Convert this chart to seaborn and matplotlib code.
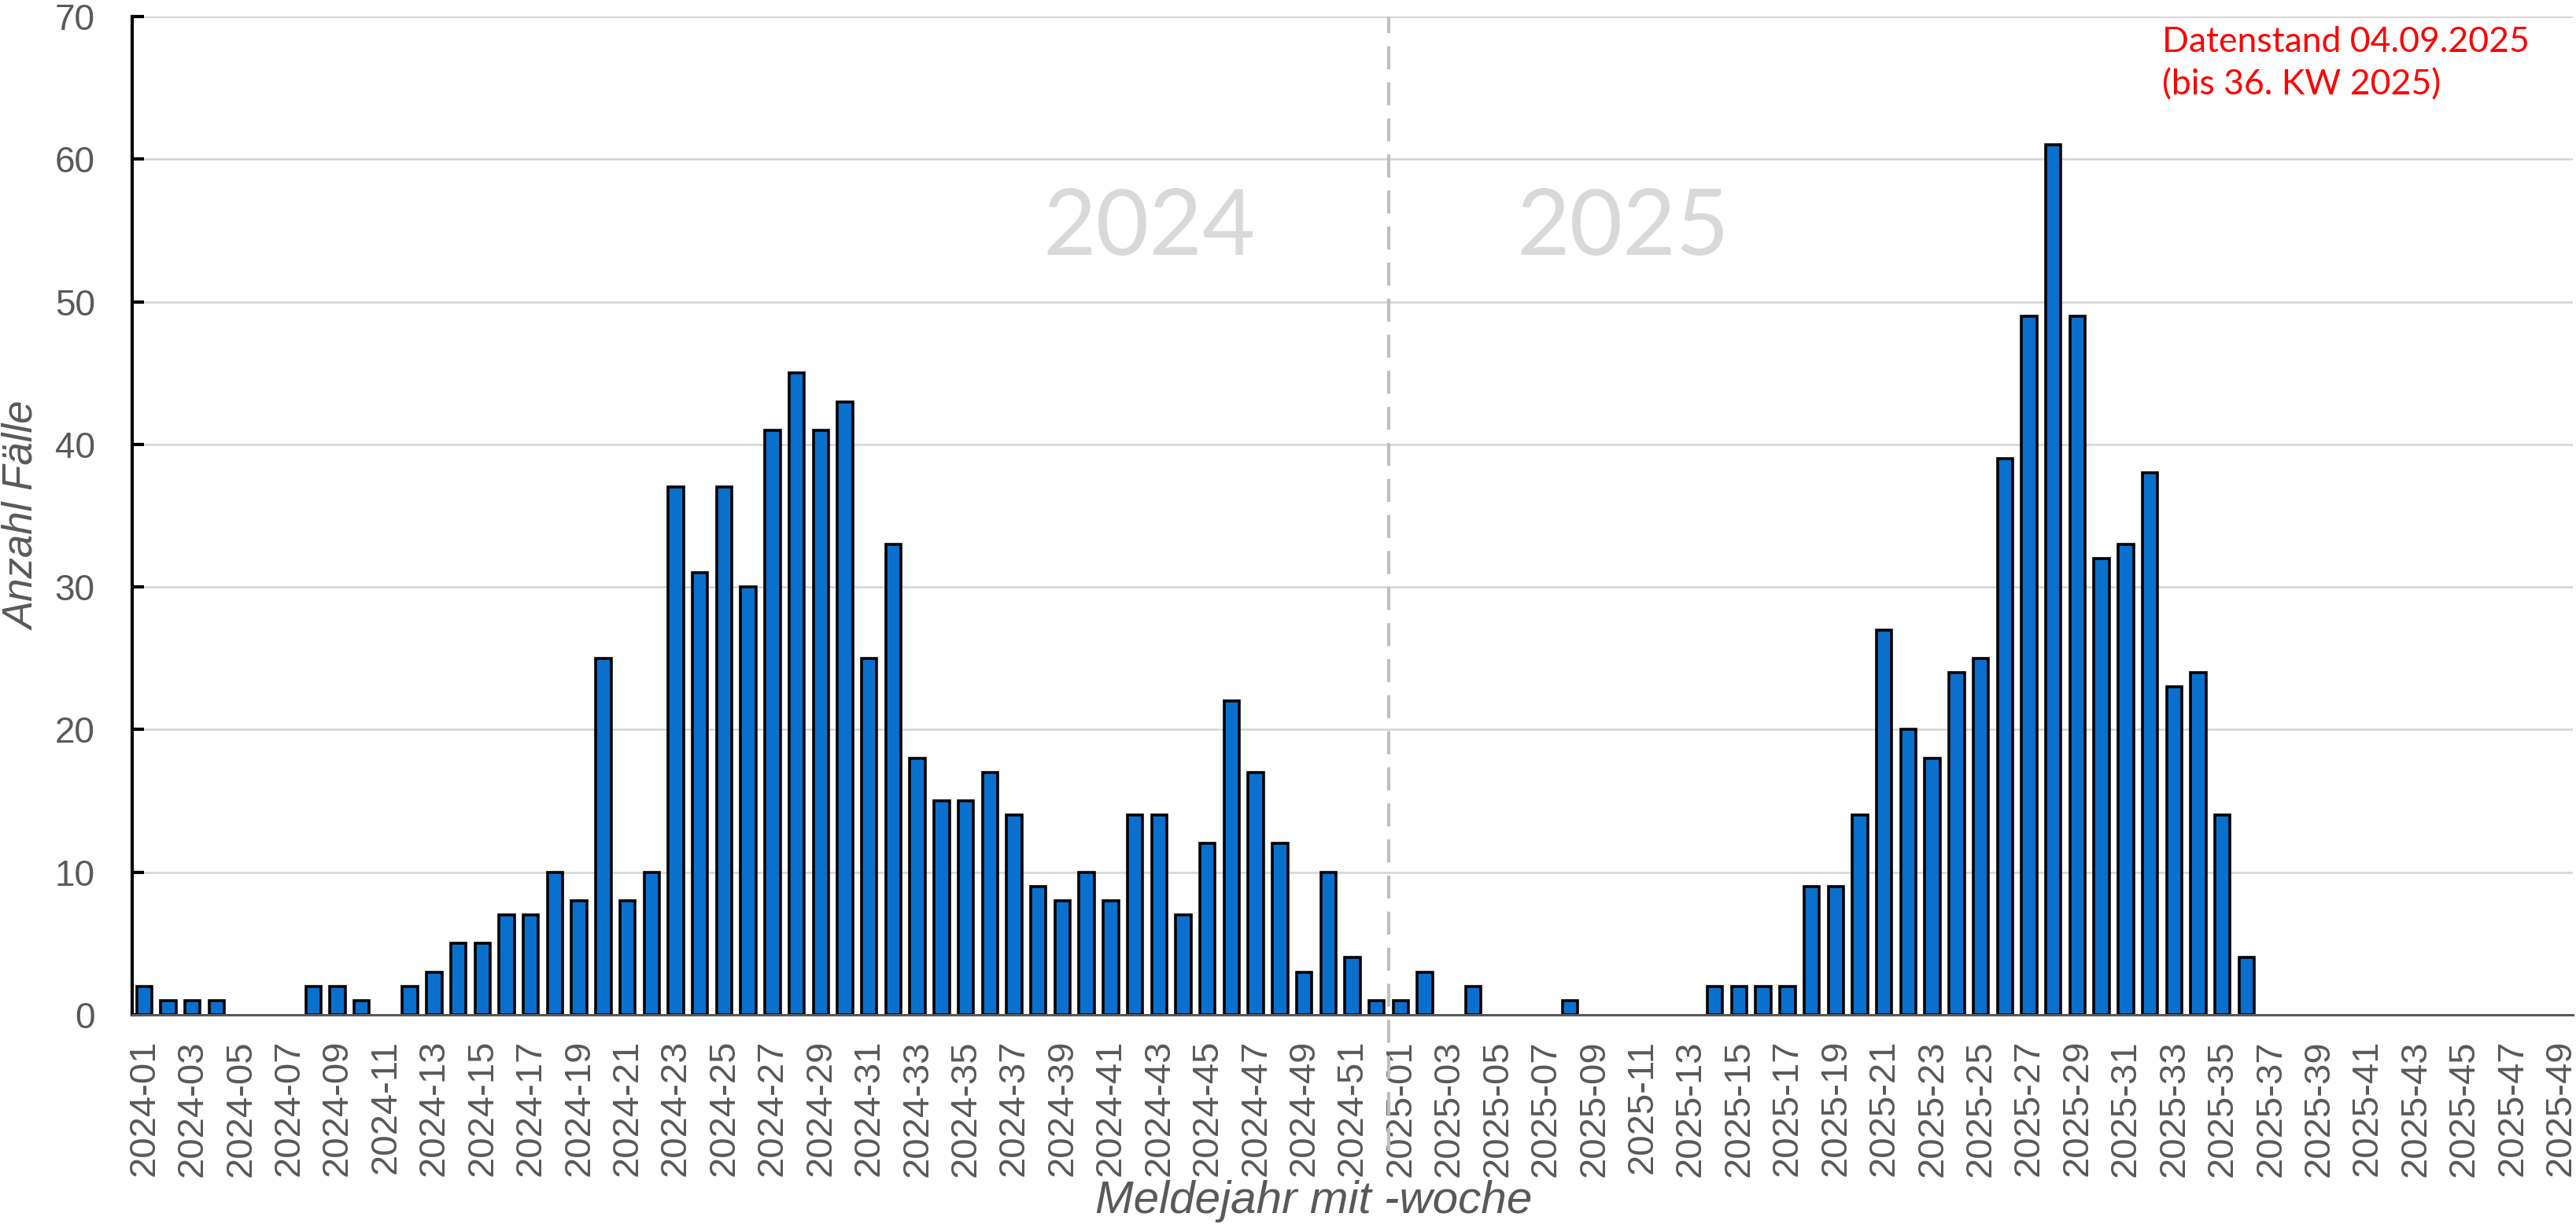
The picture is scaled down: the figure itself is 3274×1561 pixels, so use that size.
import numpy as np
import pandas as pd
import seaborn as sns
import matplotlib.pyplot as plt

# Meldewochen 2024 (52) und 2025 (bis KW 49)
weeks_2024 = ["2024-%02d" % w for w in range(1, 53)]
weeks_2025 = ["2025-%02d" % w for w in range(1, 50)]

cases_2024 = [2, 1, 1, 1, 0, 0, 0, 2, 2, 1, 0, 2, 3, 5, 5, 7, 7, 10, 8, 25,
              8, 10, 37, 31, 37, 30, 41, 45, 41, 43, 25, 33, 18, 15, 15, 17, 14, 9, 8, 10,
              8, 14, 14, 7, 12, 22, 17, 12, 3, 10, 4, 1]
cases_2025 = [1, 3, 0, 2, 0, 0, 0, 1, 0, 0, 0, 0, 0, 2, 2, 2, 2, 9, 9, 14,
              27, 20, 18, 24, 25, 39, 49, 61, 49, 32, 33, 38, 23, 24, 14, 4, 0, 0, 0, 0,
              0, 0, 0, 0, 0, 0, 0, 0, 0]

y_ticks = [0, 10, 20, 30, 40, 50, 60, 70]

weeks = weeks_2024 + weeks_2025
df = pd.DataFrame({"woche": weeks, "faelle": cases_2024 + cases_2025})

sns.set_theme(style="white")
narrow = ["Liberation Sans Narrow", "Liberation Sans", "DejaVu Sans"]
plt.rcParams["font.family"] = narrow
grey = "#595959"

fig, ax = plt.subplots(figsize=(32.74, 15.61), dpi=100)
fig.subplots_adjust(left=0.0513, right=0.9988, top=0.9865, bottom=0.1736)

sns.barplot(data=df, x="woche", y="faelle", color="#0A70CE", saturation=1,
            width=0.63, edgecolor="black", linewidth=2.6, ax=ax, zorder=3)
for p in ax.patches:
    if p.get_height() == 0:
        p.set_linewidth(0)

ax.set_xlim(-0.5, len(weeks) - 0.5)
ax.set_ylim(0, 70)
ax.set_yticks(y_ticks)
ax.set_xticks(range(0, len(weeks), 2))
ax.set_xticklabels(weeks[::2], rotation=90)

ax.yaxis.grid(True, color="#D4D4D4", lw=1.8)
ax.set_axisbelow(True)
for s in ["top", "right"]:
    ax.spines[s].set_visible(False)
ax.spines["left"].set_color("black")
ax.spines["left"].set_linewidth(3)
ax.spines["bottom"].set_color(grey)
ax.spines["bottom"].set_linewidth(2.2)
ax.spines["bottom"].set_zorder(4)

ax.tick_params(axis="y", direction="in", length=11, width=3, color="black",
               labelsize=33, labelcolor=grey, pad=34, left=True)
ax.tick_params(axis="x", length=0, labelsize=34, labelcolor=grey, pad=23)

ax.set_xlabel("Meldejahr mit -woche", fontsize=42, style="italic", color=grey, va="center")
ax.set_ylabel("Anzahl Fälle", fontsize=38, style="italic", color=grey, va="center")
ax.xaxis.set_label_coords(0.484, -0.187)
ax.yaxis.set_label_coords(-0.0448, 0.5)

# Jahrestrenner
ax.axvline(len(weeks_2024) - 0.5, ymin=-0.136, ymax=1, color="#BFBFBF", lw=3,
           ls=(0, (7, 4)), clip_on=False, zorder=2)
ax.text(41.6, 55.1, "2024", fontsize=84, color="#D9D9D9", family="Lato",
        ha="center", va="center")
ax.text(61.2, 55.1, "2025", fontsize=84, color="#D9D9D9", family="Lato",
        ha="center", va="center")

fig.text(0.8393, 1 - 33 / 1561, "Datenstand 04.09.2025\n(bis 36. KW 2025)",
         fontsize=32, color="red", family="Lato", ha="left", va="top", linespacing=1.4)

fig.savefig("out.png", dpi=100)
